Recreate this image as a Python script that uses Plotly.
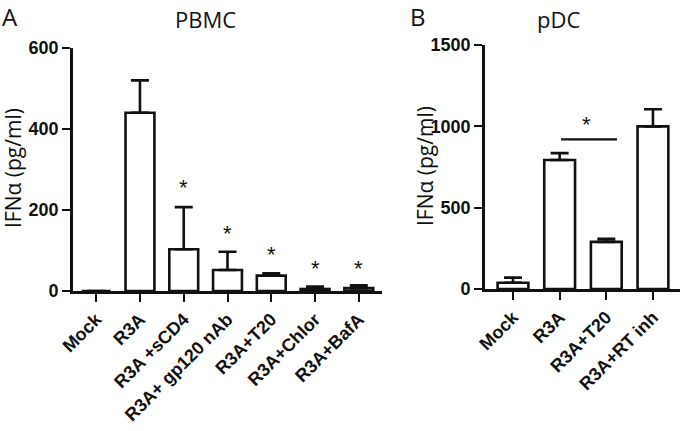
import plotly.graph_objects as go

# Panel A: PBMC
cats_a = ["Mock", "R3A", "R3A +sCD4", "R3A+ gp120 nAb", "R3A+T20", "R3A+Chlor", "R3A+BafA"]
vals_a = [0, 440, 103, 52, 38, 5, 7]
errs_a = [0, 80, 104, 45, 6, 6, 7]
stars_a = ["", "", "*", "*", "*", "*", "*"]
star_y_a = [0, 0, 255, 142, 90, 55, 55]

# Panel B: pDC
cats_b = ["Mock", "R3A", "R3A+T20", "R3A+RT inh"]
vals_b = [38, 793, 290, 1000]
errs_b = [32, 42, 18, 105]

yticks_a = [0, 200, 400, 600]
yticks_b = [0, 500, 1000, 1500]

W, H = 680, 431
K = "#111111"

fig = go.Figure()
fig.add_trace(go.Bar(
    x=list(range(len(cats_a))), y=vals_a, width=0.66,
    marker=dict(color="white", line=dict(color=K, width=2.6)),
    error_y=dict(type="data", array=errs_a, arrayminus=[0]*len(errs_a), symmetric=False,
                 color=K, thickness=2.6, width=9),
    xaxis="x", yaxis="y", showlegend=False))
fig.add_trace(go.Bar(
    x=list(range(len(cats_b))), y=vals_b, width=0.66,
    marker=dict(color="white", line=dict(color=K, width=2.6)),
    error_y=dict(type="data", array=errs_b, arrayminus=[0]*len(errs_b), symmetric=False,
                 color=K, thickness=2.6, width=9),
    xaxis="x2", yaxis="y2", showlegend=False))

tickfont = dict(family="Liberation Sans, Arial", size=18, color=K, weight="bold")
axcommon = dict(showline=True, linecolor=K, linewidth=2.6, ticks="outside", ticklen=8,
                tickwidth=2.2, tickcolor=K, showgrid=False, zeroline=False, tickfont=tickfont,
                automargin=False)

fig.update_layout(
    width=W, height=H, margin=dict(l=0, r=0, t=0, b=0),
    paper_bgcolor="white", plot_bgcolor="white",
    xaxis=dict(domain=[73/W, 382/W], range=[-0.53, 6.53], tickmode="array",
               tickvals=list(range(len(cats_a))), ticktext=cats_a, tickangle=-45,
               anchor="y", **axcommon),
    yaxis=dict(domain=[(H-291)/H, (H-48)/H], range=[0, 600], tickmode="array",
               tickvals=yticks_a, ticktext=[str(v) for v in yticks_a], anchor="x", **axcommon),
    xaxis2=dict(domain=[485/W, 1.0], range=[-0.6, 3.58], tickmode="array",
                tickvals=list(range(len(cats_b))), ticktext=cats_b, tickangle=-45,
                anchor="y2", **axcommon),
    yaxis2=dict(domain=[(H-289)/H, (H-45)/H], range=[0, 1500], tickmode="array",
                tickvals=yticks_b, ticktext=[str(v) for v in yticks_b], anchor="x2", **axcommon),
)

titlefont = dict(family="Open Sans, Noto Sans, Arial", size=22, color=K)
ann = []
ann.append(dict(text="PBMC", x=205/W, y=1-19/H, xref="paper", yref="paper",
                xanchor="center", yanchor="middle", showarrow=False, font=titlefont))
ann.append(dict(text="pDC", x=558/W, y=1-19/H, xref="paper", yref="paper",
                xanchor="center", yanchor="middle", showarrow=False, font=titlefont))
ann.append(dict(text="A", x=0, y=1, xref="paper", yref="paper",
                xanchor="left", yanchor="top", showarrow=False, xshift=0, yshift=2,
                font=dict(family="Open Sans, Noto Sans, Arial", size=24, color=K)))
ann.append(dict(text="B", x=408/W, y=1, xref="paper", yref="paper",
                xanchor="left", yanchor="top", showarrow=False, yshift=2,
                font=dict(family="Open Sans, Noto Sans, Arial", size=24, color=K)))
ytfont = dict(family="Open Sans, Noto Sans, Arial", size=21, color=K)
ann.append(dict(text="IFNα (pg/ml)", x=13/W, y=1-168/H, xref="paper", yref="paper",
                xanchor="center", yanchor="middle", textangle=-90, showarrow=False, font=ytfont))
ann.append(dict(text="IFNα (pg/ml)", x=425/W, y=1-166/H, xref="paper", yref="paper",
                xanchor="center", yanchor="middle", textangle=-90, showarrow=False, font=ytfont))
for i, (s, yy) in enumerate(zip(stars_a, star_y_a)):
    if s:
        ann.append(dict(text=s, x=i, y=yy, xref="x", yref="y", showarrow=False,
                        xanchor="center", yanchor="middle",
                        font=dict(family="Liberation Sans, Arial", size=22, color=K)))
ann.append(dict(text="*", x=1.58, y=1010, xref="x2", yref="y2", showarrow=False,
                xanchor="center", yanchor="middle",
                font=dict(family="Liberation Sans, Arial", size=22, color=K)))
fig.update_layout(annotations=ann)
fig.add_shape(type="line", x0=1.03, x1=2.23, y0=920, y1=920, xref="x2", yref="y2",
              line=dict(color=K, width=2.2))

fig.write_html("out.html", config={"displayModeBar": False},
               post_script="document.body.style.margin='0';document.body.style.overflow='hidden';")
